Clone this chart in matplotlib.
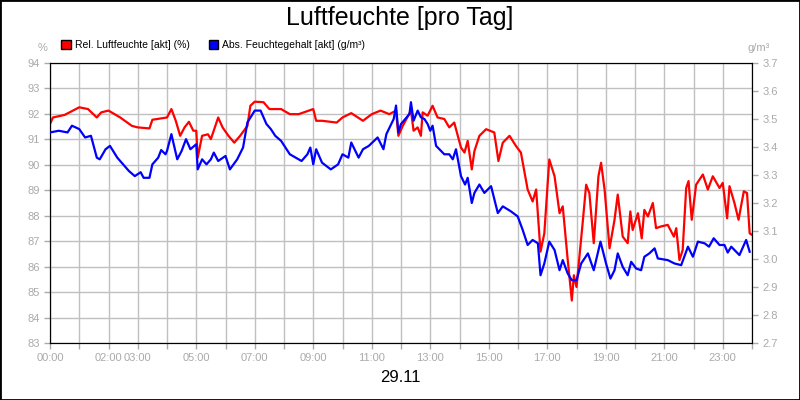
import matplotlib
matplotlib.use('Agg')
import matplotlib.pyplot as plt
import matplotlib.patches as mpatches
import numpy as np

plt.rcParams['font.family'] = ['Liberation Sans', 'DejaVu Sans']

# --- data (hours since midnight) ---
rel_hours = [0.0, 0.1, 0.5, 1.0, 1.3, 1.6, 1.75, 2.0, 2.4, 2.8, 3.0, 3.4, 3.5, 4.0, 4.15, 4.3,
             4.45, 4.6, 4.75, 4.9, 5.0, 5.05, 5.2, 5.4, 5.5, 5.75, 5.9, 6.1, 6.3, 6.5, 6.75, 6.85,
             7.0, 7.3, 7.5, 7.9, 8.2, 8.5, 9.0, 9.1, 9.3, 9.8, 10.0, 10.3, 10.7, 11.0, 11.3, 11.6,
             11.83, 11.91, 12.06, 12.34, 12.43, 12.57, 12.68, 12.74, 12.91, 13.08, 13.25, 13.48,
             13.65, 13.82, 14.05, 14.17, 14.28, 14.42, 14.51, 14.68, 14.91, 15.19, 15.33, 15.48,
             15.71, 15.93, 16.1, 16.33, 16.5, 16.62, 16.77, 16.9, 17.07, 17.25, 17.42, 17.53, 17.7,
             17.84, 17.91, 18.0, 18.21, 18.33, 18.44, 18.59, 18.75, 18.84, 18.96, 19.13, 19.3,
             19.41, 19.58, 19.75, 19.84, 19.92, 20.1, 20.23, 20.32, 20.44, 20.61, 20.72, 20.89,
             21.12, 21.33, 21.41, 21.52, 21.63, 21.75, 21.83, 21.94, 22.09, 22.32, 22.49, 22.66,
             22.89, 23.0, 23.15, 23.23, 23.4, 23.54, 23.72, 23.83, 23.92, 24.0]
rel_values = [91.60, 91.86, 91.96, 92.26, 92.19, 91.86, 92.06, 92.13, 91.86, 91.53, 91.47, 91.43,
              91.77, 91.86, 92.19, 91.73, 91.14, 91.47, 91.69, 91.34, 91.34, 90.28, 91.14, 91.20,
              91.01, 91.86, 91.47, 91.14, 90.87, 91.14, 91.53, 92.32, 92.48, 92.46, 92.19, 92.19,
              91.99, 91.99, 92.19, 91.73, 91.73, 91.66, 91.86, 92.03, 91.73, 91.99, 92.13, 91.99,
              92.13, 91.14, 91.53, 92.13, 91.34, 91.47, 91.14, 92.06, 91.93, 92.32, 91.86, 91.80,
              91.47, 91.66, 90.68, 90.48, 90.94, 89.82, 90.54, 91.14, 91.40, 91.27, 90.15, 90.87,
              91.14, 90.74, 90.48, 89.03, 88.56, 89.03, 86.59, 87.31, 90.21, 89.55, 88.10, 88.37,
              86.26, 84.67, 85.66, 85.20, 87.71, 89.22, 88.89, 86.92, 89.55, 90.08, 89.03, 86.72,
              87.84, 88.83, 87.18, 86.92, 88.17, 87.44, 88.10, 87.11, 88.23, 87.97, 88.50, 87.51,
              87.58, 87.64, 87.18, 87.51, 86.26, 86.65, 89.09, 89.36, 87.84, 89.22, 89.62, 89.03,
              89.55, 89.09, 89.29, 87.90, 89.16, 88.50, 87.84, 88.96, 88.89, 87.31, 87.25]

abs_hours = [0.0, 0.3, 0.6, 0.75, 1.0, 1.2, 1.4, 1.6, 1.7, 1.9, 2.05, 2.3, 2.5, 2.7, 2.9, 3.1,
             3.2, 3.4, 3.5, 3.7, 3.8, 3.95, 4.0, 4.15, 4.35, 4.5, 4.65, 4.8, 5.0, 5.05, 5.2, 5.35,
             5.5, 5.6, 5.75, 6.0, 6.15, 6.4, 6.6, 6.75, 7.0, 7.2, 7.4, 7.55, 7.7, 7.9, 8.2, 8.6,
             8.8, 8.9, 9.0, 9.1, 9.3, 9.6, 9.85, 10.0, 10.2, 10.3, 10.55, 10.7, 10.9, 11.2, 11.4,
             11.5, 11.75, 11.83, 11.91, 12.0, 12.29, 12.34, 12.43, 12.57, 12.68, 12.8, 12.91, 13.0,
             13.08, 13.2, 13.48, 13.65, 13.77, 13.88, 14.05, 14.19, 14.28, 14.42, 14.51, 14.68,
             14.85, 15.08, 15.31, 15.48, 15.76, 15.99, 16.16, 16.33, 16.5, 16.68, 16.77, 16.9,
             17.07, 17.25, 17.42, 17.53, 17.7, 17.84, 18.0, 18.16, 18.39, 18.59, 18.82, 19.01,
             19.16, 19.3, 19.41, 19.58, 19.75, 19.87, 20.04, 20.21, 20.32, 20.49, 20.67, 20.78,
             21.12, 21.35, 21.58, 21.81, 21.98, 22.15, 22.38, 22.53, 22.69, 22.89, 23.06, 23.17,
             23.29, 23.57, 23.8, 23.92]
abs_values = [3.452, 3.458, 3.452, 3.476, 3.464, 3.434, 3.440, 3.362, 3.356, 3.392, 3.404, 3.362,
              3.338, 3.314, 3.296, 3.310, 3.290, 3.290, 3.338, 3.362, 3.389, 3.374, 3.386, 3.446,
              3.356, 3.386, 3.428, 3.392, 3.410, 3.320, 3.356, 3.338, 3.356, 3.380, 3.350, 3.368,
              3.320, 3.356, 3.398, 3.488, 3.530, 3.530, 3.482, 3.464, 3.440, 3.422, 3.374, 3.350,
              3.374, 3.398, 3.338, 3.392, 3.344, 3.320, 3.338, 3.374, 3.362, 3.416, 3.362, 3.392,
              3.404, 3.434, 3.392, 3.446, 3.500, 3.548, 3.452, 3.482, 3.518, 3.560, 3.494, 3.530,
              3.506, 3.500, 3.482, 3.458, 3.476, 3.404, 3.374, 3.374, 3.356, 3.392, 3.296, 3.266,
              3.290, 3.200, 3.236, 3.266, 3.236, 3.260, 3.164, 3.188, 3.170, 3.152, 3.104, 3.050,
              3.068, 3.056, 2.942, 2.984, 3.062, 3.032, 2.960, 2.996, 2.948, 2.924, 2.924, 2.984,
              3.020, 2.960, 3.062, 2.984, 2.930, 2.960, 3.020, 2.972, 2.942, 2.990, 2.966, 2.960,
              3.008, 3.020, 3.038, 3.002, 2.996, 2.984, 2.978, 3.044, 3.008, 3.062, 3.056, 3.044,
              3.074, 3.050, 3.050, 3.023, 3.044, 3.014, 3.068, 3.026]

tick_hours = [0, 2, 3, 5, 7, 9, 11, 13, 15, 17, 19, 21, 23]
tick_labels = ['00:00', '02:00', '03:00', '05:00', '07:00', '09:00', '11:00',
               '13:00', '15:00', '17:00', '19:00', '21:00', '23:00']

# --- figure ---
fig = plt.figure(figsize=(8, 4), dpi=100)
fig.patches.append(mpatches.Rectangle((0, 0), 1, 1, transform=fig.transFigure,
                                      fill=False, edgecolor='black', linewidth=2))
ax = fig.add_axes([0.0625, 0.1425, 0.8775, 0.7])
ax2 = ax.twinx()

grey = '#aaaaaa'
ax.plot(rel_hours, rel_values, color='#ff0000', linewidth=1.6, zorder=3)
ax2.plot(abs_hours, abs_values, color='#0000ff', linewidth=1.6, zorder=3)

ax.set_xlim(0, 24)
ax.set_ylim(83, 94)
ax2.set_ylim(2.7, 3.7)
ax.set_yticks(np.arange(83, 95, 1))
ax2.set_yticks(np.arange(2.7, 3.71, 0.1))
ax2.set_yticklabels([f'{v:.1f}' for v in np.arange(2.7, 3.71, 0.1)])
ax.set_xticks(range(0, 25))
ax.set_xticklabels(['' if h not in tick_hours else tick_labels[tick_hours.index(h)]
                    for h in range(0, 25)])
ax.grid(True, color='#c0c0c0', linewidth=1)
ax.set_axisbelow(True)
for a in (ax, ax2):
    a.tick_params(colors=grey, labelsize=8, length=4, width=1, labelcolor=grey)
    for s in a.spines.values():
        s.set_color('black')
ax2.set_zorder(ax.get_zorder() + 1)

fig.text(0.5, 0.955, 'Luftfeuchte [pro Tag]', ha='center', va='center', fontsize=18)
fig.text(0.5, 0.055, '29.11', ha='center', va='center', fontsize=12)
fig.text(0.053, 0.88, '%', ha='center', va='center', fontsize=8, color=grey)
fig.text(0.948, 0.88, 'g/m³', ha='center', va='center', fontsize=8, color=grey)

handles = [mpatches.Patch(facecolor='#ff0000', edgecolor='black', label='Rel. Luftfeuchte [akt] (%)'),
           mpatches.Patch(facecolor='#0000ff', edgecolor='black', label='Abs. Feuchtegehalt [akt] (g/m³)')]
fig.legend(handles=handles, loc='center left', bbox_to_anchor=(0.065, 0.888), ncol=2,
           frameon=False, fontsize=7.5, handlelength=0.9, handleheight=0.9,
           handletextpad=0.4, columnspacing=1.8)

fig.savefig('out.png', dpi=100)
